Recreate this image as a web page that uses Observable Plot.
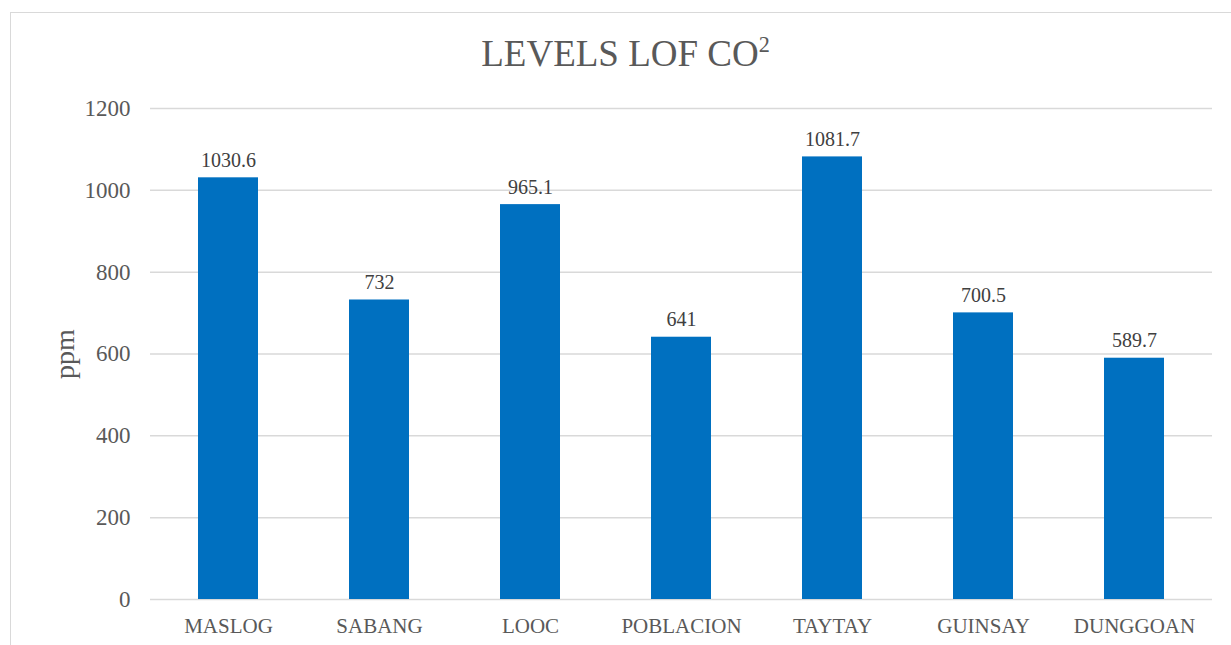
<!DOCTYPE html>
<html>
<head>
<meta charset="utf-8">
<script src="https://cdn.jsdelivr.net/npm/d3@7"></script>
<script src="https://cdn.jsdelivr.net/npm/@observablehq/plot@0.6"></script>
<style>
  html, body { margin: 0; padding: 0; background: #fff; overflow: hidden; }
  body { position: relative; width: 1231px; height: 645px; font-family: "Liberation Serif", "Times New Roman", serif; }
  #border { position: absolute; left: 10px; top: 12px; width: 1260px; height: 700px; border-left: 1px solid #d9d9d9; border-top: 1px solid #d9d9d9; pointer-events: none; }
  #title { position: relative; box-sizing: border-box; height: 90px; width: 1231px; margin-left: 10px; padding-top: 35px; text-align: center; font-size: 37px; line-height: 37px; color: #595959; }
  #title sup { font-size: 0.6em; vertical-align: 0.62em; line-height: 0; }
  #chart { position: relative; }
  #chart svg, #chart svg text, #chart svg g { font-family: "Liberation Serif", "Times New Roman", serif !important; font-variant: normal !important; }
</style>
</head>
<body>
<div id="border"></div>
<div id="title">LEVELS LOF CO<sup>2</sup></div>
<div id="chart"></div>
<script>
const categories = ["MASLOG", "SABANG", "LOOC", "POBLACION", "TAYTAY", "GUINSAY", "DUNGGOAN"];
const values = [1030.6, 732, 965.1, 641, 1081.7, 700.5, 589.7];
const yTicks = [0, 200, 400, 600, 800, 1000, 1200];
const yLabel = "ppm";

const data = categories.map((c, i) => ({category: c, value: values[i]}));

const chart = Plot.plot({
  width: 1231,
  height: 555,
  marginLeft: 150,
  marginRight: 19,
  marginTop: 18,
  marginBottom: 46,
  style: {background: "transparent", overflow: "visible"},
  x: {domain: categories, paddingInner: 0.6, paddingOuter: 0.3, label: null},
  y: {domain: [0, 1200], label: null},
  marks: [
    Plot.ruleY(yTicks, {stroke: "#d9d9d9", strokeWidth: 1.5}),
    Plot.barY(data, {x: "category", y: "value", fill: "#0070C0"}),
    Plot.text(data, {x: "category", y: "value", text: d => String(d.value), lineAnchor: "bottom", dy: -11, fontSize: 20, fill: "#404040"}),
    Plot.axisY({ticks: yTicks, tickFormat: d => String(d), tickSize: 0, tickPadding: 20, fontSize: 23, fill: "#595959", label: null}),
    Plot.axisX({tickSize: 0, tickPadding: 19, fontSize: 21, fill: "#595959", label: null}),
    Plot.text([yLabel], {frameAnchor: "left", dx: -85, rotate: -90, fontSize: 28, fill: "#595959", textAnchor: "middle", lineAnchor: "middle"})
  ]
});
document.getElementById("chart").appendChild(chart);
</script>
</body>
</html>
